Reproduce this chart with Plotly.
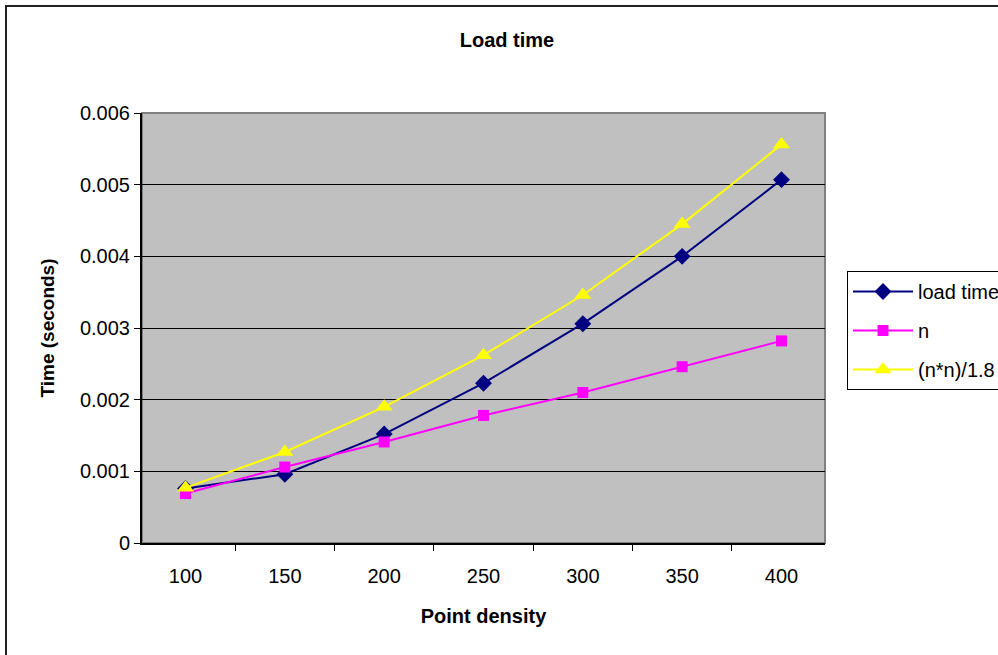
import plotly.graph_objects as go

# Point density categories
density = ["100", "150", "200", "250", "300", "350", "400"]

# Measured load time (seconds)
load_time = [0.00076, 0.00096, 0.00152, 0.00223, 0.00306, 0.00400, 0.00507]
# Linear reference curve
n_curve = [0.00069, 0.00106, 0.00141, 0.00178, 0.00210, 0.00246, 0.00282]
# Quadratic reference curve
nn_curve = [0.00077, 0.00127, 0.00190, 0.00262, 0.00346, 0.00445, 0.00556]

y_ticks = [0, 0.001, 0.002, 0.003, 0.004, 0.005, 0.006]
y_labels = ["0", "0.001", "0.002", "0.003", "0.004", "0.005", "0.006"]

FONT = "Arial, 'Liberation Sans', sans-serif"

series = [
    ("load time", load_time, "#000080", "diamond", 13),
    ("n", n_curve, "#FF00FF", "square", 11),
    ("(n*n)/1.8", nn_curve, "#FFFF00", "triangle-up", 15),
]

fig = go.Figure()
for i, (name, vals, color, symbol, size) in enumerate(series):
    fig.add_trace(go.Scatter(
        x=density, y=vals, name=name, mode="lines+markers",
        legendgroup=f"g{i}",
        line=dict(color=color, width=2),
        marker=dict(symbol=symbol, size=size, color=color),
    ))

fig.update_layout(
    width=998, height=655,
    margin=dict(l=142, r=173, t=113, b=112, autoexpand=False),
    paper_bgcolor="white",
    plot_bgcolor="#C0C0C0",
    font=dict(family=FONT, size=20, color="black"),
    title=dict(
        text="<b>Load time</b>", x=507 / 998, xanchor="center",
        y=1 - 40 / 655, yanchor="middle",
        font=dict(family=FONT, size=20, color="black"),
    ),
    xaxis=dict(
        type="category", tickson="boundaries", ticks="outside", ticklen=6,
        tickcolor="black", showline=True, linecolor="black", linewidth=2,
        showgrid=False, zeroline=False,
        tickfont=dict(size=20), ticklabelstandoff=14,
        title=dict(text="<b>Point density</b>", font=dict(size=20), standoff=23),
    ),
    yaxis=dict(
        range=[0, 0.006], tickvals=y_ticks, ticktext=y_labels,
        ticks="outside", ticklen=6, tickcolor="black",
        showline=True, linecolor="black", linewidth=2,
        showgrid=True, gridcolor="black", gridwidth=1, zeroline=False,
        tickfont=dict(size=20),
        title=dict(text="<b>Time (seconds)</b>", font=dict(size=19), standoff=20),
    ),
    legend=dict(
        x=(847 - 142) / 683, y=(543 - 271) / 430, xanchor="left", yanchor="top",
        bgcolor="white", bordercolor="black", borderwidth=1,
        font=dict(size=20), itemwidth=60, tracegroupgap=10,
        entrywidth=175, entrywidthmode="pixels",
    ),
    showlegend=True,
    shapes=[
        # gray frame of the plotting area
        dict(type="rect", xref="paper", yref="paper", x0=0, x1=1, y0=0, y1=1,
             line=dict(color="#808080", width=2), layer="below"),
        # outer chart border
        dict(type="rect", xref="paper", yref="paper",
             x0=(6 - 142) / 683, x1=(1010 - 142) / 683,
             y0=(543 - 670) / 430, y1=(543 - 6) / 430,
             line=dict(color="#222222", width=2)),
    ],
)

fig.write_html("out.html")
